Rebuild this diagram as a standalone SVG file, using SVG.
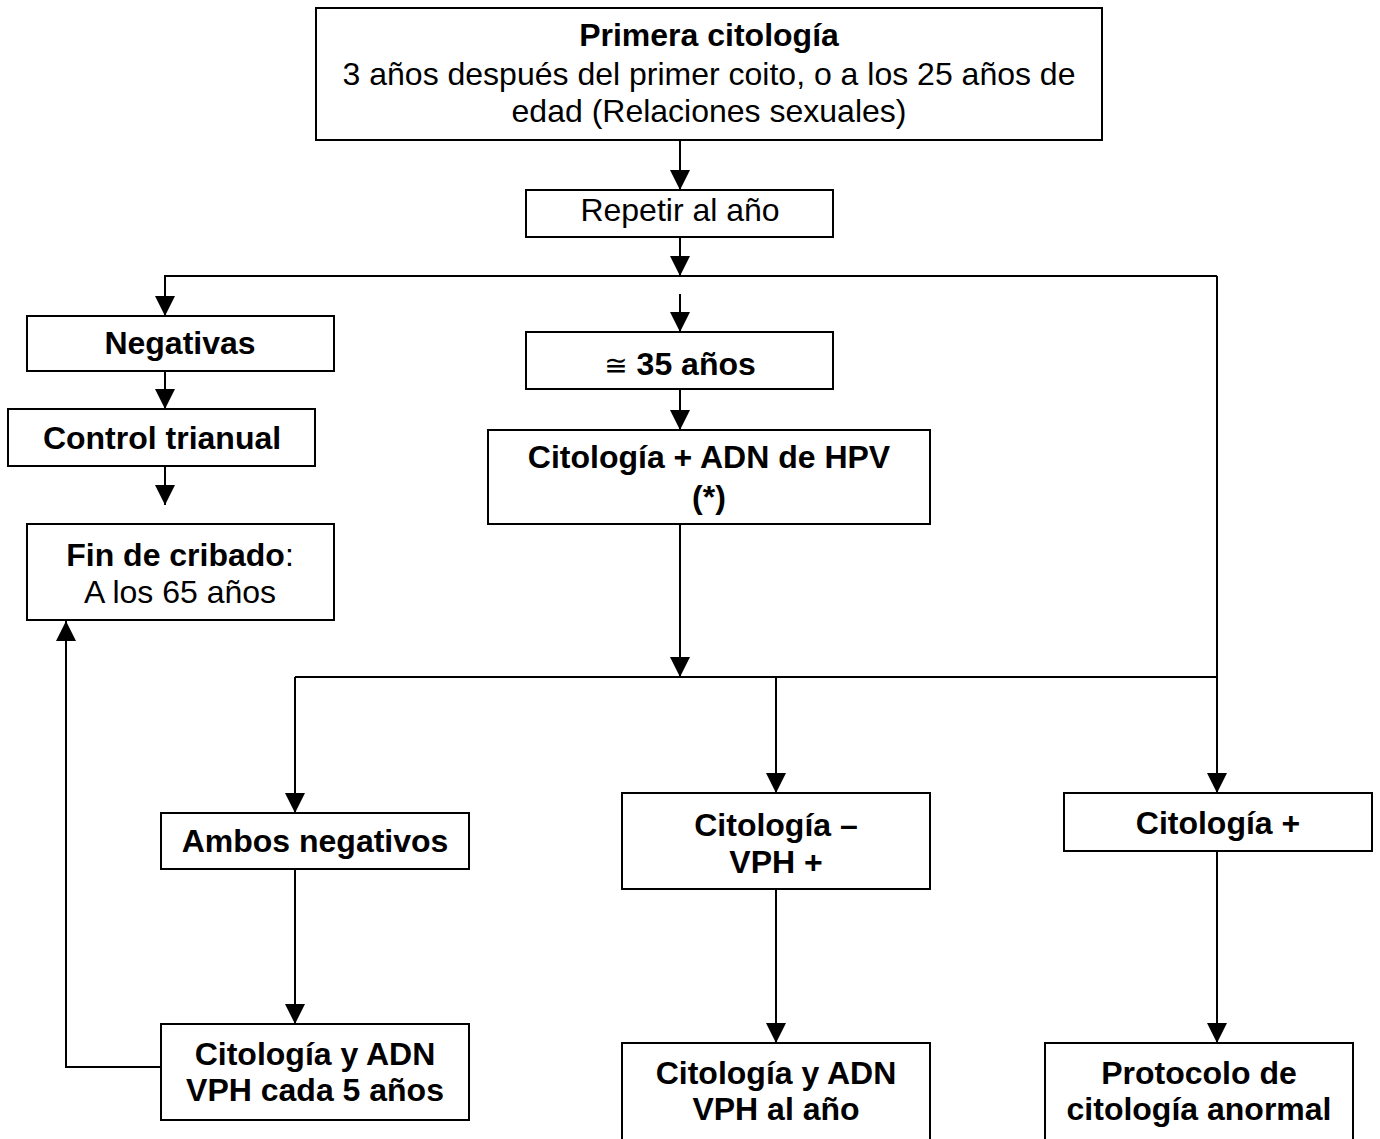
<svg xmlns="http://www.w3.org/2000/svg" width="1380" height="1139" viewBox="0 0 1380 1139">
<style>
.box{fill:#fff;stroke:#000;stroke-width:2}
.c{fill:none;stroke:#000;stroke-width:2}
text{font-family:"Liberation Sans",Arial,sans-serif;font-size:32px;fill:#000;text-anchor:middle}
.b{font-weight:bold}
</style>
<defs>
<marker id="ah" markerUnits="userSpaceOnUse" markerWidth="20" markerHeight="20" refX="20" refY="10" orient="auto" viewBox="0 0 20 20">
<path d="M0,0 L20,10 L0,20 z" fill="#000"/>
</marker>
</defs>
<rect width="1380" height="1139" fill="#fff"/>
<g id="connectors">
<line class="c" x1="680" y1="140" x2="680" y2="190" marker-end="url(#ah)"/>
<line class="c" x1="680" y1="237" x2="680" y2="276" marker-end="url(#ah)"/>
<polyline class="c" points="165,277 165,276 1217,276"/>
<line class="c" x1="165" y1="276" x2="165" y2="316" marker-end="url(#ah)"/>
<line class="c" x1="1217" y1="276" x2="1217" y2="793" marker-end="url(#ah)"/>
<line class="c" x1="680" y1="294" x2="680" y2="332" marker-end="url(#ah)"/>
<line class="c" x1="165" y1="371" x2="165" y2="409" marker-end="url(#ah)"/>
<line class="c" x1="165" y1="466" x2="165" y2="505" marker-end="url(#ah)"/>
<line class="c" x1="680" y1="389" x2="680" y2="430" marker-end="url(#ah)"/>
<line class="c" x1="680" y1="524" x2="680" y2="677" marker-end="url(#ah)"/>
<line class="c" x1="295" y1="677" x2="1217" y2="677"/>
<line class="c" x1="295" y1="677" x2="295" y2="813" marker-end="url(#ah)"/>
<line class="c" x1="776" y1="677" x2="776" y2="793" marker-end="url(#ah)"/>
<line class="c" x1="295" y1="869" x2="295" y2="1024" marker-end="url(#ah)"/>
<line class="c" x1="776" y1="889" x2="776" y2="1043" marker-end="url(#ah)"/>
<line class="c" x1="1217" y1="851" x2="1217" y2="1043" marker-end="url(#ah)"/>
<polyline class="c" points="161,1067 66,1067 66,621" marker-end="url(#ah)"/>
</g>
<g id="n-primera">
<rect class="box" x="316" y="8" width="786" height="132"/>
<text class="b" x="709" y="46">Primera citología</text>
<text x="709" y="85">3 años después del primer coito, o a los 25 años de</text>
<text x="709" y="122">edad (Relaciones sexuales)</text>
</g>
<g id="n-repetir">
<rect class="box" x="526" y="190" width="307" height="47"/>
<text x="680" y="221">Repetir al año</text>
</g>
<g id="n-negativas">
<rect class="box" x="27" y="316" width="307" height="55"/>
<text class="b" x="180" y="354">Negativas</text>
</g>
<g id="n-control">
<rect class="box" x="8" y="409" width="307" height="57"/>
<text class="b" x="162" y="449">Control trianual</text>
</g>
<g id="n-fin">
<rect class="box" x="27" y="524" width="307" height="96"/>
<text x="180" y="566"><tspan class="b">Fin de cribado</tspan>:</text>
<text x="180" y="603">A los 65 años</text>
</g>
<g id="n-35">
<rect class="box" x="526" y="332" width="307" height="57"/>
<text x="680" y="375"><tspan font-family="DejaVu Sans,sans-serif" font-size="28">≅</tspan><tspan class="b"> 35 años</tspan></text>
</g>
<g id="n-citadn">
<rect class="box" x="488" y="430" width="442" height="94"/>
<text class="b" x="709" y="468">Citología + ADN de HPV</text>
<text class="b" x="709" y="508" font-size="36">(*)</text>
</g>
<g id="n-ambos">
<rect class="box" x="161" y="813" width="308" height="56"/>
<text class="b" x="315" y="852">Ambos negativos</text>
</g>
<g id="n-citvph">
<rect class="box" x="622" y="793" width="308" height="96"/>
<text class="b" x="776" y="836">Citología –</text>
<text class="b" x="776" y="873">VPH +</text>
</g>
<g id="n-citpos">
<rect class="box" x="1064" y="793" width="308" height="58"/>
<text class="b" x="1218" y="834">Citología +</text>
</g>
<g id="n-cada5">
<rect class="box" x="161" y="1024" width="308" height="96"/>
<text class="b" x="315" y="1065">Citología y ADN</text>
<text class="b" x="315" y="1101">VPH cada 5 años</text>
</g>
<g id="n-alano">
<rect class="box" x="622" y="1043" width="308" height="100"/>
<text class="b" x="776" y="1084">Citología y ADN</text>
<text class="b" x="776" y="1120">VPH al año</text>
</g>
<g id="n-protocolo">
<rect class="box" x="1045" y="1043" width="308" height="100"/>
<text class="b" x="1199" y="1084">Protocolo de</text>
<text class="b" x="1199" y="1120">citología anormal</text>
</g>
</svg>
